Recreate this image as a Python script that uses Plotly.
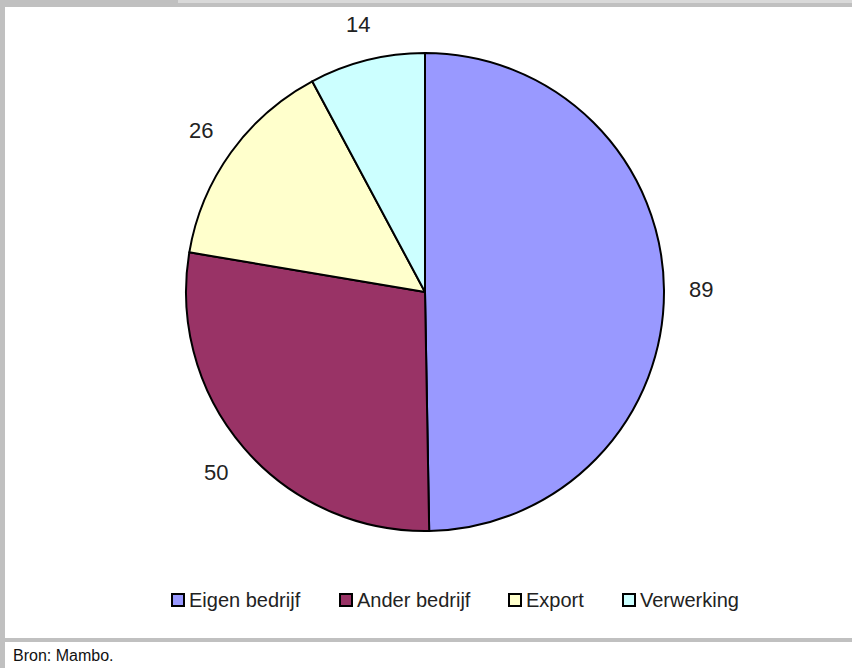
import math
import plotly.graph_objects as go

# Data
categories = ["Eigen bedrijf", "Ander bedrijf", "Export", "Verwerking"]
values = [89, 50, 26, 14]
colors = ["#9999FF", "#993366", "#FFFFCC", "#CCFFFF"]
source_note = "Bron: Mambo."

W, H = 853, 668
CX, CY, R = 425, 292, 239          # pie centre / radius in pixels
LABEL_R = 1.155 * R                  # radius at which value labels sit


def px(x):
    return x / W


def py(y):
    return 1 - y / H


fig = go.Figure()
fig.add_trace(go.Pie(
    labels=categories,
    values=values,
    sort=False,
    direction="clockwise",
    rotation=0,
    textinfo="none",
    hoverinfo="label+value",
    marker=dict(colors=colors, line=dict(color="black", width=2)),
    domain=dict(x=[px(CX - R), px(CX + R)], y=[py(CY + R), py(CY - R)]),
    showlegend=False,
))

# value labels around the pie, at the middle angle of each slice
annotations = []
total = sum(values)
cum = 0
for v in values:
    mid = (cum + v / 2) / total * 2 * math.pi
    cum += v
    lx = CX + LABEL_R * math.sin(mid)
    ly = CY - LABEL_R * math.cos(mid)
    annotations.append(dict(
        x=px(lx), y=py(ly), xref="paper", yref="paper",
        text=str(v), showarrow=False, xanchor="center", yanchor="middle",
        font=dict(family="Liberation Sans, Arial, sans-serif", size=22, color="#222222"),
    ))

shapes = []
# frame: top band, light strip, left bar, bottom rule
frame_gray = "#C0C0C0"
shapes.append(dict(type="rect", xref="paper", yref="paper", x0=px(0), x1=px(852),
                   y0=py(7), y1=py(0), fillcolor=frame_gray, line=dict(width=0), layer="above"))
shapes.append(dict(type="rect", xref="paper", yref="paper", x0=px(178), x1=px(852),
                   y0=py(3), y1=py(0), fillcolor="#D9D9D9", line=dict(width=0), layer="above"))
shapes.append(dict(type="rect", xref="paper", yref="paper", x0=px(0), x1=px(5),
                   y0=py(668), y1=py(0), fillcolor=frame_gray, line=dict(width=0), layer="above"))
shapes.append(dict(type="rect", xref="paper", yref="paper", x0=px(0), x1=px(852),
                   y0=py(642), y1=py(638), fillcolor=frame_gray, line=dict(width=0), layer="above"))

# legend: swatches with labels
legend_x = [171, 339, 508, 622]
legend_y = 600
for name, col, x0 in zip(categories, colors, legend_x):
    shapes.append(dict(type="rect", xref="paper", yref="paper",
                       x0=px(x0 + 1), x1=px(x0 + 13),
                       y0=py(legend_y + 6), y1=py(legend_y - 6),
                       fillcolor=col, line=dict(color="black", width=2)))
    annotations.append(dict(
        x=px(x0 + 16), y=py(legend_y), xref="paper", yref="paper",
        text=name, showarrow=False, xanchor="left", yanchor="middle",
        font=dict(family="Liberation Sans, Arial, sans-serif", size=20, color="#222222"),
    ))

annotations.append(dict(
    x=px(11), y=py(655), xref="paper", yref="paper",
    text=source_note, showarrow=False, xanchor="left", yanchor="middle",
    font=dict(family="Liberation Sans, Arial, sans-serif", size=16, color="#111111"),
))

fig.update_layout(
    width=W, height=H,
    margin=dict(l=0, r=0, t=0, b=0),
    paper_bgcolor="white",
    plot_bgcolor="white",
    shapes=shapes,
    annotations=annotations,
)

fig.write_html("out.html")
